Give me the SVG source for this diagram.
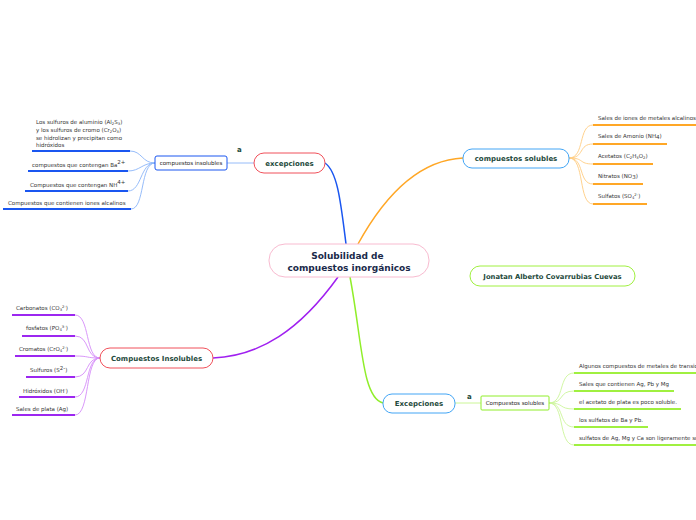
<svg xmlns="http://www.w3.org/2000/svg" width="696" height="520" viewBox="0 0 696 520">
<style>
.bg{fill:#ffffff}
.node{fill:#ffffff;stroke-width:1}
.title{font-family:"DejaVu Sans",Verdana,sans-serif;font-weight:bold;fill:#1e4a3c;text-anchor:middle}
.leaf{font-family:"DejaVu Sans",Verdana,sans-serif;font-size:5.5px;fill:#333333}
.sub{font-size:3.8px}
.lbl{font-family:"DejaVu Sans",Verdana,sans-serif;font-weight:bold;font-size:7px;fill:#1e4a3c}
.main{fill:none;stroke-width:1.5}
.thin{fill:none;stroke-width:0.9}
.ul{stroke-width:2;fill:none}
</style>
<rect class="bg" x="0" y="0" width="696" height="520"/>

<g id="connectors">
  <path class="main" stroke="#1a56f0" d="M346,244 C341,205 338,172 325,163"/>
  <path class="main" stroke="#ffa726" d="M358,244 C385,195 420,160 463,158"/>
  <path class="main" stroke="#a020f0" d="M338,277 C300,330 260,356 213,358"/>
  <path class="main" stroke="#90ee2a" d="M350,277 C362,340 362,398 383,403"/>
  <line class="thin" stroke="#8ab4f8" x1="254" y1="163" x2="227" y2="163"/>
  <line class="thin" stroke="#c5f58a" x1="455" y1="403" x2="481" y2="403"/>
  <g stroke="#8ab4f8" class="thin">
    <path d="M155,163 C142,163 142,151 130,151"/>
    <path d="M155,163 C142,163 140,171 128,171"/>
    <path d="M155,163 C140,163 142,191 128,191"/>
    <path d="M155,163 C140,163 145,209 131,209"/>
  </g>
  <g stroke="#1a56f0" class="ul">
    <line x1="32" y1="151" x2="130" y2="151"/>
    <line x1="28" y1="171" x2="128" y2="171"/>
    <line x1="25" y1="191" x2="128" y2="191"/>
    <line x1="3" y1="209" x2="131" y2="209"/>
  </g>
  <g stroke="#ffcc80" class="thin">
    <path d="M569,158 C585,158 578,125 593,125"/>
    <path d="M569,158 C585,158 578,144 593,144"/>
    <path d="M569,158 C585,158 578,164 593,164"/>
    <path d="M569,158 C585,158 578,184 593,184"/>
    <path d="M569,158 C585,158 578,204 593,204"/>
  </g>
  <g stroke="#ffa726" class="ul">
    <line x1="593" y1="125" x2="696" y2="125"/>
    <line x1="593" y1="144" x2="667" y2="144"/>
    <line x1="593" y1="164" x2="653" y2="164"/>
    <line x1="593" y1="184" x2="643" y2="184"/>
    <line x1="593" y1="204" x2="647" y2="204"/>
  </g>
  <g stroke="#d58cf8" class="thin">
    <path d="M100,358 C85,358 90,315 75,315"/>
    <path d="M100,358 C85,358 90,336 75,336"/>
    <path d="M100,358 C85,358 90,356 75,356"/>
    <path d="M100,358 C85,358 90,377 75,377"/>
    <path d="M100,358 C85,358 90,397 75,397"/>
    <path d="M100,358 C85,358 90,415 75,415"/>
  </g>
  <g stroke="#9c27f0" class="ul">
    <line x1="12" y1="315" x2="75" y2="315"/>
    <line x1="22" y1="336" x2="75" y2="336"/>
    <line x1="15" y1="356" x2="75" y2="356"/>
    <line x1="26" y1="377" x2="75" y2="377"/>
    <line x1="19" y1="397" x2="75" y2="397"/>
    <line x1="12" y1="415" x2="75" y2="415"/>
  </g>
  <g stroke="#ccf59a" class="thin">
    <path d="M549,403 C565,403 558,373 574,373"/>
    <path d="M549,403 C565,403 558,391 574,391"/>
    <path d="M549,403 C565,403 558,409 574,409"/>
    <path d="M549,403 C565,403 558,427 574,427"/>
    <path d="M549,403 C565,403 558,445 574,445"/>
  </g>
  <g stroke="#a0f040" class="ul">
    <line x1="574" y1="373" x2="696" y2="373"/>
    <line x1="574" y1="391" x2="674" y2="391"/>
    <line x1="574" y1="409" x2="681" y2="409"/>
    <line x1="574" y1="427" x2="648" y2="427"/>
    <line x1="574" y1="445" x2="696" y2="445"/>
  </g>
</g>

<g id="central">
  <rect class="node" x="269" y="244" width="160" height="33" rx="16" stroke="#f8bbd0"/>
  <text class="title" font-size="9" style="fill:#1a2a4a">
    <tspan x="349" y="259">Solubilidad de</tspan>
    <tspan x="349" y="270.5">compuestos inorgánicos</tspan>
  </text>
</g>

<g id="excepciones-top">
  <rect class="node" x="254" y="153" width="71" height="20" rx="10" stroke="#f0505a"/>
  <text class="title" font-size="7" x="289.5" y="166">excepciones</text>
</g>
<text id="label-a-top" class="lbl" x="237" y="152">a</text>

<g id="compuestos-insolubles-small">
  <rect class="node" x="155" y="156" width="72" height="14" rx="2" stroke="#1a56f0" stroke-width="2"/>
  <text class="leaf" x="191" y="165" text-anchor="middle" style="fill:#222">compuestos insolubles</text>
</g>

<g id="leaf-sulfuros-al">
  <text class="leaf">
    <tspan x="36" y="124">Los sulfuros de aluminio (Al<tspan class="sub" dy="1">2</tspan><tspan dy="-1">S</tspan><tspan class="sub" dy="1">3</tspan><tspan dy="-1">)</tspan></tspan>
    <tspan x="36" y="132">y los sulfuros de cromo (Cr<tspan class="sub" dy="1">2</tspan><tspan dy="-1">O</tspan><tspan class="sub" dy="1">3</tspan><tspan dy="-1">)</tspan></tspan>
    <tspan x="36" y="140">se hidrolizan y precipitan como</tspan>
    <tspan x="36" y="147">hidróxidos</tspan>
  </text>
</g>
<g id="leaf-ba"><text class="leaf" x="32" y="167">compuestos que contengan Ba<tspan font-size="5.5" dy="-3">2+</tspan></text></g>
<g id="leaf-nh"><text class="leaf" x="30" y="187">Compuestos que contengan NH<tspan font-size="5.5" dy="-3">4+</tspan></text></g>
<g id="leaf-alcalinos"><text class="leaf" x="8" y="205">Compuestos que contienen iones alcalinos</text></g>

<g id="compuestos-solubles">
  <rect class="node" x="463" y="149" width="106" height="19" rx="9" stroke="#42a5f5"/>
  <text class="title" font-size="7" x="516" y="161">compuestos solubles</text>
</g>
<g id="leaf-sales-alcalinos"><text class="leaf" x="598" y="120">Sales de iones de metales alcalinos</text></g>
<g id="leaf-amonio"><text class="leaf" x="598" y="138">Sales de Amonio (NH<tspan font-size="5.5" dy="1">4</tspan><tspan dy="-1">)</tspan></text></g>
<g id="leaf-acetatos"><text class="leaf" x="598" y="158">Acetatos (C<tspan class="sub" dy="1">2</tspan><tspan dy="-1">H</tspan><tspan class="sub" dy="1">3</tspan><tspan dy="-1">O</tspan><tspan class="sub" dy="1">2</tspan><tspan dy="-1">)</tspan></text></g>
<g id="leaf-nitratos"><text class="leaf" x="598" y="178">Nitratos (NO<tspan font-size="5.5" dy="1">3</tspan><tspan dy="-1">)</tspan></text></g>
<g id="leaf-sulfatos"><text class="leaf" x="598" y="198">Sulfatos (SO<tspan class="sub" dy="1">4</tspan><tspan class="sub" dy="-3">2-</tspan><tspan dy="2">)</tspan></text></g>

<g id="jonatan">
  <rect class="node" x="470" y="266" width="165" height="20" rx="10" stroke="#a0f040"/>
  <text class="title" font-size="6.8" x="552.5" y="278.5">Jonatan Alberto Covarrubias Cuevas</text>
</g>

<g id="compuestos-insolubles">
  <rect class="node" x="100" y="348" width="113" height="20" rx="10" stroke="#f0505a"/>
  <text class="title" font-size="7" x="156.5" y="361">Compuestos Insolubles</text>
</g>
<g id="leaf-carbonatos"><text class="leaf" x="16" y="310">Carbonatos (CO<tspan class="sub" dy="1">3</tspan><tspan class="sub" dy="-3">2-</tspan><tspan dy="2">)</tspan></text></g>
<g id="leaf-fosfatos"><text class="leaf" x="26" y="330">fosfatos (PO<tspan class="sub" dy="1">4</tspan><tspan class="sub" dy="-3">3-</tspan><tspan dy="2">)</tspan></text></g>
<g id="leaf-cromatos"><text class="leaf" x="19" y="351">Cromatos (CrO<tspan class="sub" dy="1">4</tspan><tspan class="sub" dy="-3">2-</tspan><tspan dy="2">)</tspan></text></g>
<g id="leaf-sulfuros"><text class="leaf" x="30" y="372">Sulfuros (S<tspan font-size="5.5" dy="-2.5">2-</tspan><tspan dy="2.5">)</tspan></text></g>
<g id="leaf-hidroxidos"><text class="leaf" x="23" y="393">Hidróxidos (OH<tspan class="sub" dy="-2">-</tspan><tspan dy="2">)</tspan></text></g>
<g id="leaf-plata"><text class="leaf" x="16" y="411">Sales de plata (Ag)</text></g>

<g id="excepciones-bottom">
  <rect class="node" x="383" y="394" width="72" height="19" rx="9" stroke="#42a5f5"/>
  <text class="title" font-size="7" x="419" y="406">Excepciones</text>
</g>
<text id="label-a-bottom" class="lbl" x="467" y="399">a</text>

<g id="compuestos-solubles-small">
  <rect class="node" x="481" y="396" width="68" height="14" rx="1" stroke="#90ee2a" stroke-width="2"/>
  <text class="leaf" x="515" y="405" text-anchor="middle" style="fill:#222">Compuestos solubles</text>
</g>
<g id="leaf-transicion"><text class="leaf" x="579" y="368">Algunos compuestos de metales de transición</text></g>
<g id="leaf-agpbmg"><text class="leaf" x="579" y="386">Sales que contienen Ag, Pb y Mg</text></g>
<g id="leaf-acetato-plata"><text class="leaf" x="579" y="404">el acetato de plata es poco soluble.</text></g>
<g id="leaf-ba-pb"><text class="leaf" x="579" y="422">los sulfatos de Ba y Pb.</text></g>
<g id="leaf-ligeramente"><text class="leaf" x="579" y="440">sulfatos de Ag, Mg y Ca son ligeramente solubles</text></g>
</svg>
